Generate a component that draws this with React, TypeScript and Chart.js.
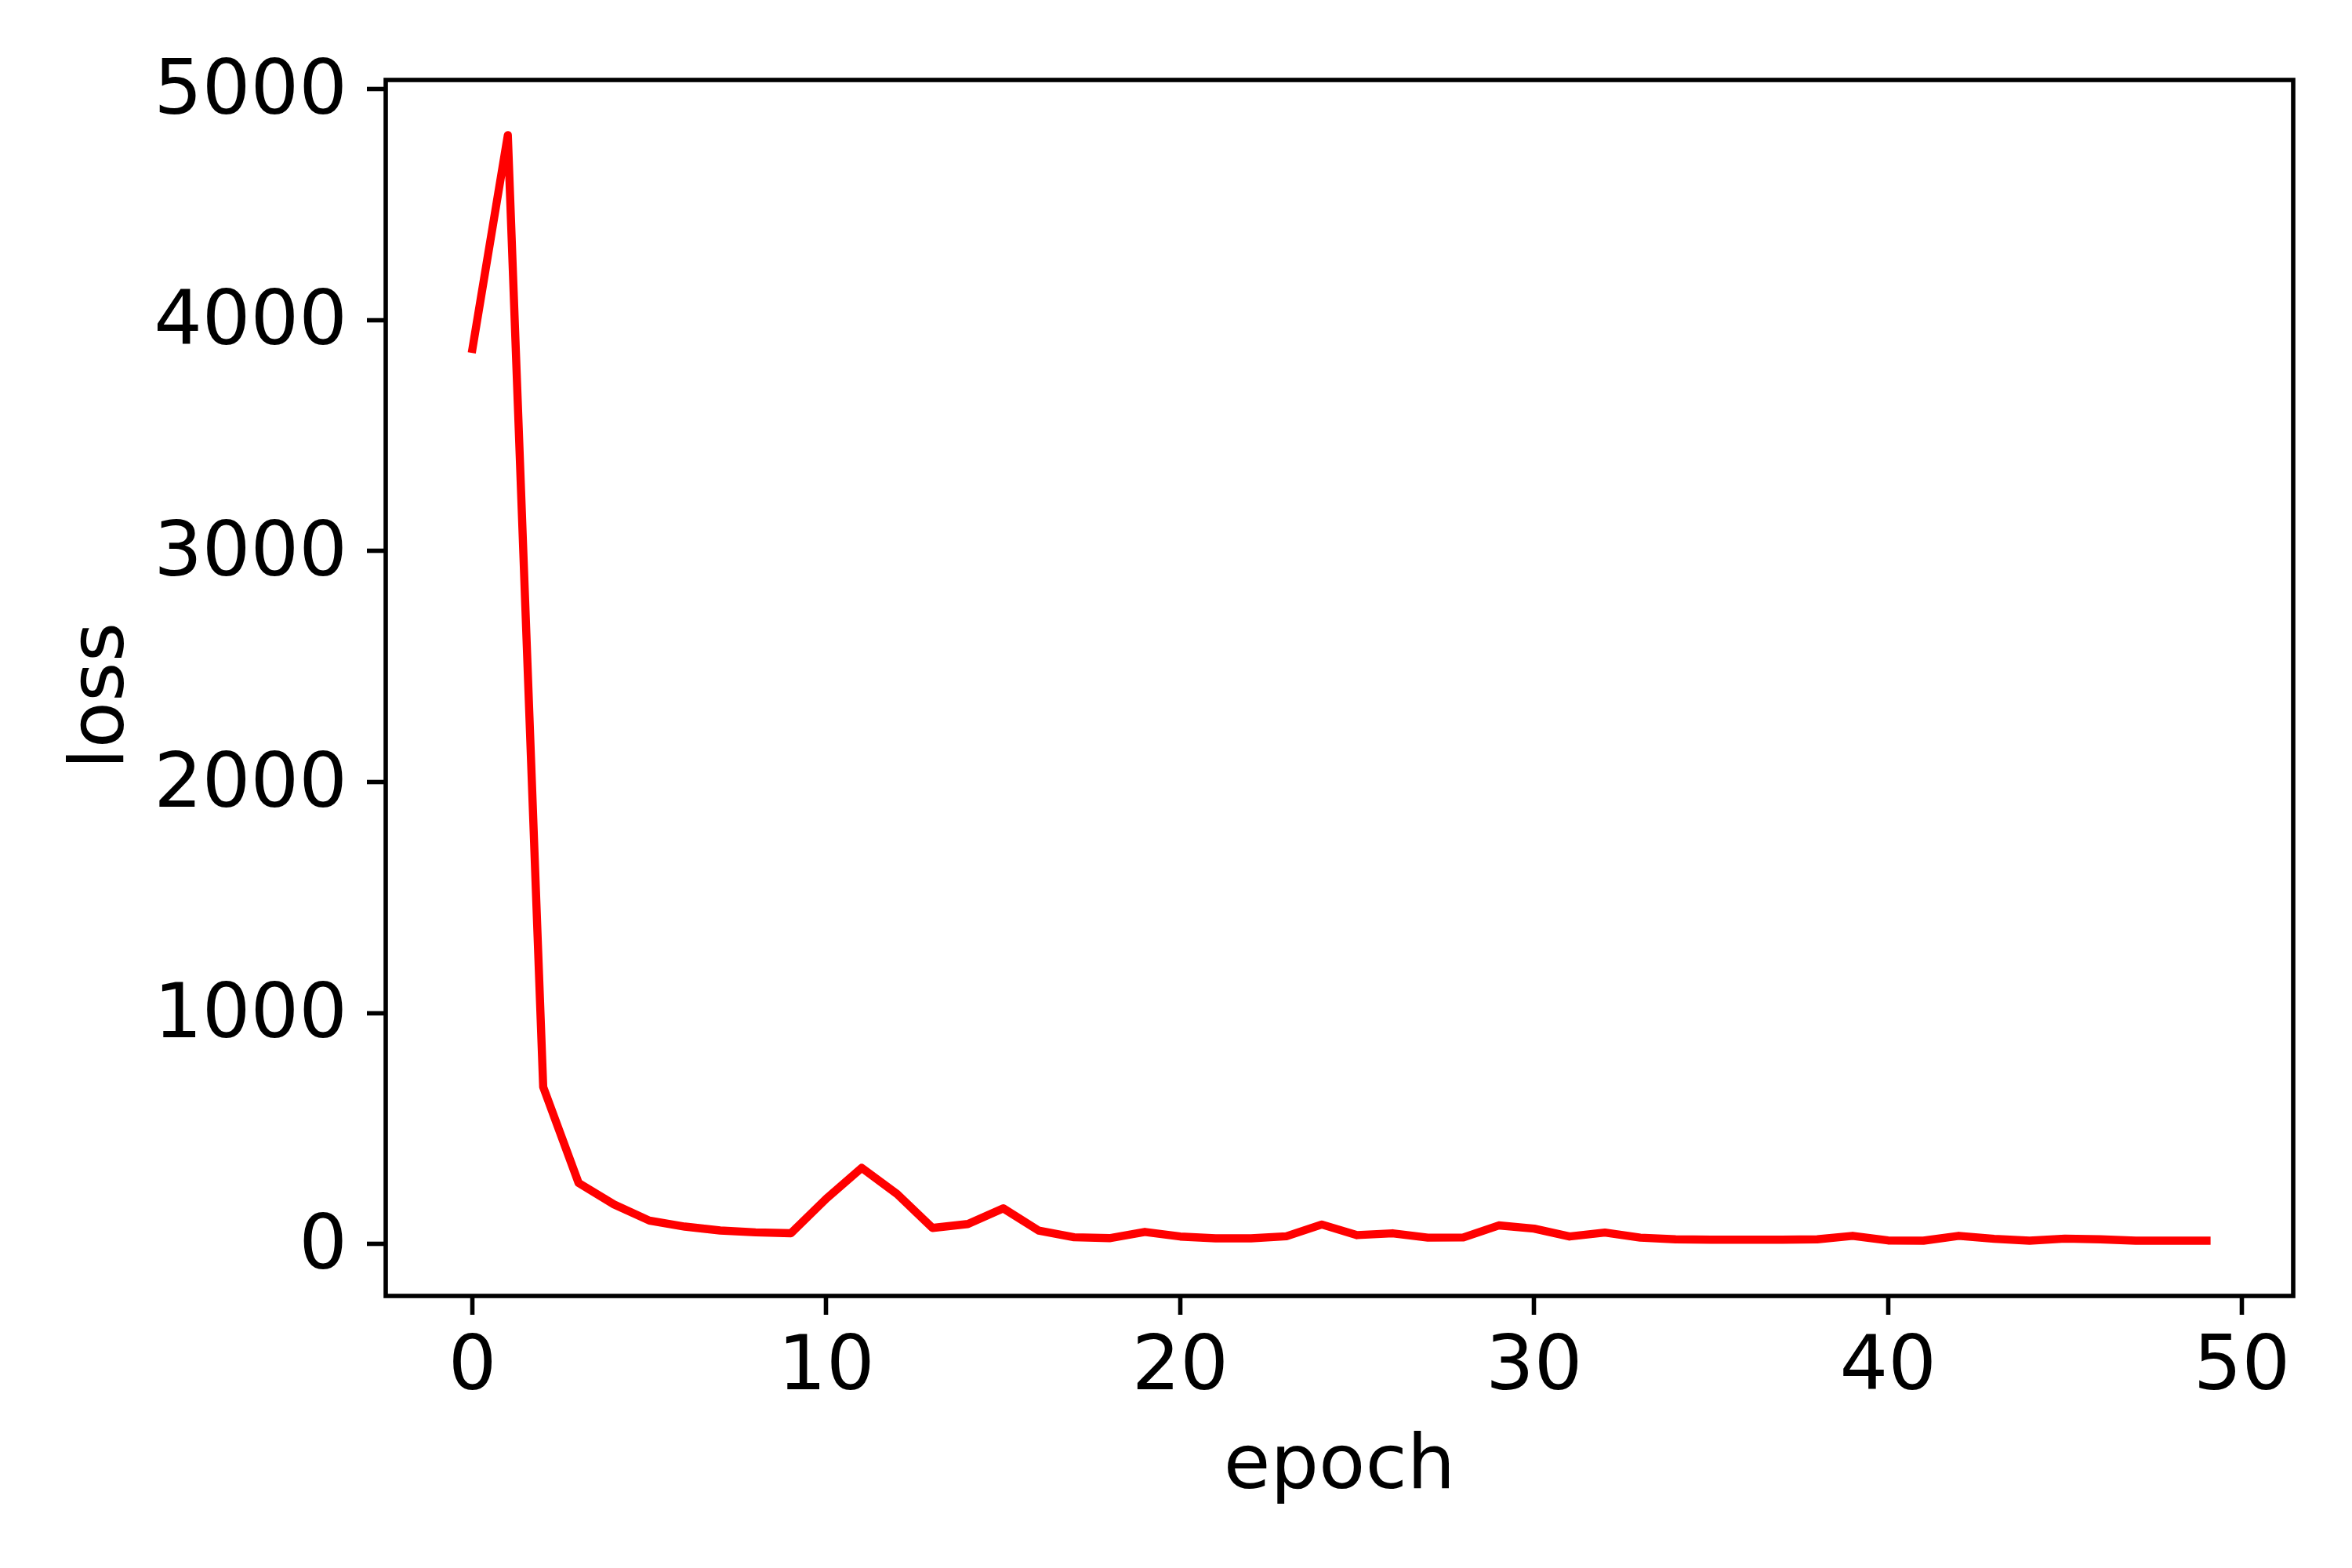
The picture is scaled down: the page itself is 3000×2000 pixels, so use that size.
import React, { useEffect, useRef } from "react";
import { Chart, registerables } from "chart.js";

Chart.register(...registerables);

const epochs = [
  0, 1, 2, 3, 4, 5, 6, 7, 8, 9,
  10, 11, 12, 13, 14, 15, 16, 17, 18, 19,
  20, 21, 22, 23, 24, 25, 26, 27, 28, 29,
  30, 31, 32, 33, 34, 35, 36, 37, 38, 39,
  40, 41, 42, 43, 44, 45, 46, 47, 48, 49,
];

const loss = [
  3875, 4800, 680, 265, 172, 102, 76, 59, 51, 47,
  197, 330, 217, 70, 87, 155, 59, 30, 26, 53,
  33, 25, 25, 34, 85, 39, 47, 28, 29, 81,
  67, 33, 50, 28, 21, 19, 19, 19, 21, 36,
  16, 15, 36, 23, 15, 24, 21, 15, 15, 15,
];

const xTicks = [0, 10, 20, 30, 40, 50];
const yTicks = [0, 1000, 2000, 3000, 4000, 5000];
const xLabel = "epoch";
const yLabel = "loss";

const W = 3000;
const H = 2000;
const FONT = "DejaVu Sans";
const FS = 97;
const SPINE = 5.6;

export default function App() {
  const ref = useRef<HTMLCanvasElement | null>(null);

  useEffect(() => {
    document.body.style.margin = "0";
    const canvas = ref.current;
    if (!canvas) return;

    const xMin = Math.min(...epochs);
    const xMax = Math.max(...epochs);
    const xPad = (xMax - xMin) * 0.05;
    const yMin = Math.min(...loss);
    const yMax = Math.max(...loss);
    const yPad = (yMax - yMin) * 0.05;

    const framePlugin = {
      id: "frameAndTitles",
      beforeDraw(chart: any) {
        const c = chart.ctx;
        c.save();
        c.fillStyle = "#ffffff";
        c.fillRect(0, 0, chart.width, chart.height);
        c.restore();
      },
      afterDraw(chart: any) {
        const c = chart.ctx;
        const a = chart.chartArea;
        c.save();
        c.strokeStyle = "#000000";
        c.lineWidth = SPINE;
        c.lineJoin = "miter";
        c.strokeRect(a.left, a.top, a.right - a.left, a.bottom - a.top);
        c.fillStyle = "#000000";
        c.font = `${FS}px "${FONT}"`;
        c.textAlign = "center";
        c.textBaseline = "alphabetic";
        c.fillText(xLabel, (a.left + a.right) / 2, 1898);
        c.translate(157, (a.top + a.bottom) / 2 + 10);
        c.rotate(-Math.PI / 2);
        c.fillText(yLabel, 0, 0);
        c.restore();
      },
    };

    const chart = new Chart(canvas, {
      type: "line",
      data: {
        datasets: [
          {
            data: epochs.map((e, i) => ({ x: e, y: loss[i] })),
            borderColor: "#ff0000",
            backgroundColor: "#ff0000",
            borderWidth: 10.4,
            pointRadius: 0,
            tension: 0,
            fill: false,
            borderCapStyle: "square",
            borderJoinStyle: "round",
          },
        ],
      },
      options: {
        animation: false,
        responsive: false,
        devicePixelRatio: 1,
        events: [],
        layout: { padding: { left: 0, top: 102, right: 75, bottom: 0 } },
        plugins: {
          legend: { display: false },
          tooltip: { enabled: false },
          title: { display: false },
        },
        scales: {
          x: {
            type: "linear",
            min: xMin - xPad,
            max: xMax + xPad,
            afterBuildTicks: (s: any) => {
              s.ticks = xTicks.map((v) => ({ value: v }));
            },
            afterFit: (s: any) => {
              s.height = H - 1653;
            },
            grid: {
              display: true,
              drawOnChartArea: false,
              drawTicks: true,
              tickLength: 24,
              tickWidth: SPINE,
              tickColor: "#000000",
            },
            border: { display: false },
            ticks: {
              autoSkip: false,
              maxRotation: 0,
              padding: 12,
              color: "#000000",
              font: { family: FONT, size: FS },
              callback: (v: any) => String(v),
            },
          },
          y: {
            type: "linear",
            min: yMin - yPad,
            max: yMax + yPad,
            afterBuildTicks: (s: any) => {
              s.ticks = yTicks.map((v) => ({ value: v }));
            },
            afterFit: (s: any) => {
              s.width = 492;
            },
            grid: {
              display: true,
              drawOnChartArea: false,
              drawTicks: true,
              tickLength: 24,
              tickWidth: SPINE,
              tickColor: "#000000",
            },
            border: { display: false },
            ticks: {
              autoSkip: false,
              padding: 25,
              labelOffset: 6,
              color: "#000000",
              font: { family: FONT, size: FS },
              callback: (v: any) => String(v),
            },
          },
        },
      },
      plugins: [framePlugin],
    } as any);

    return () => chart.destroy();
  }, []);

  return (
    <div style={{ width: W, height: H }}>
      <canvas
        ref={ref}
        width={W}
        height={H}
        style={{ width: W, height: H, display: "block" }}
      />
    </div>
  );
}
